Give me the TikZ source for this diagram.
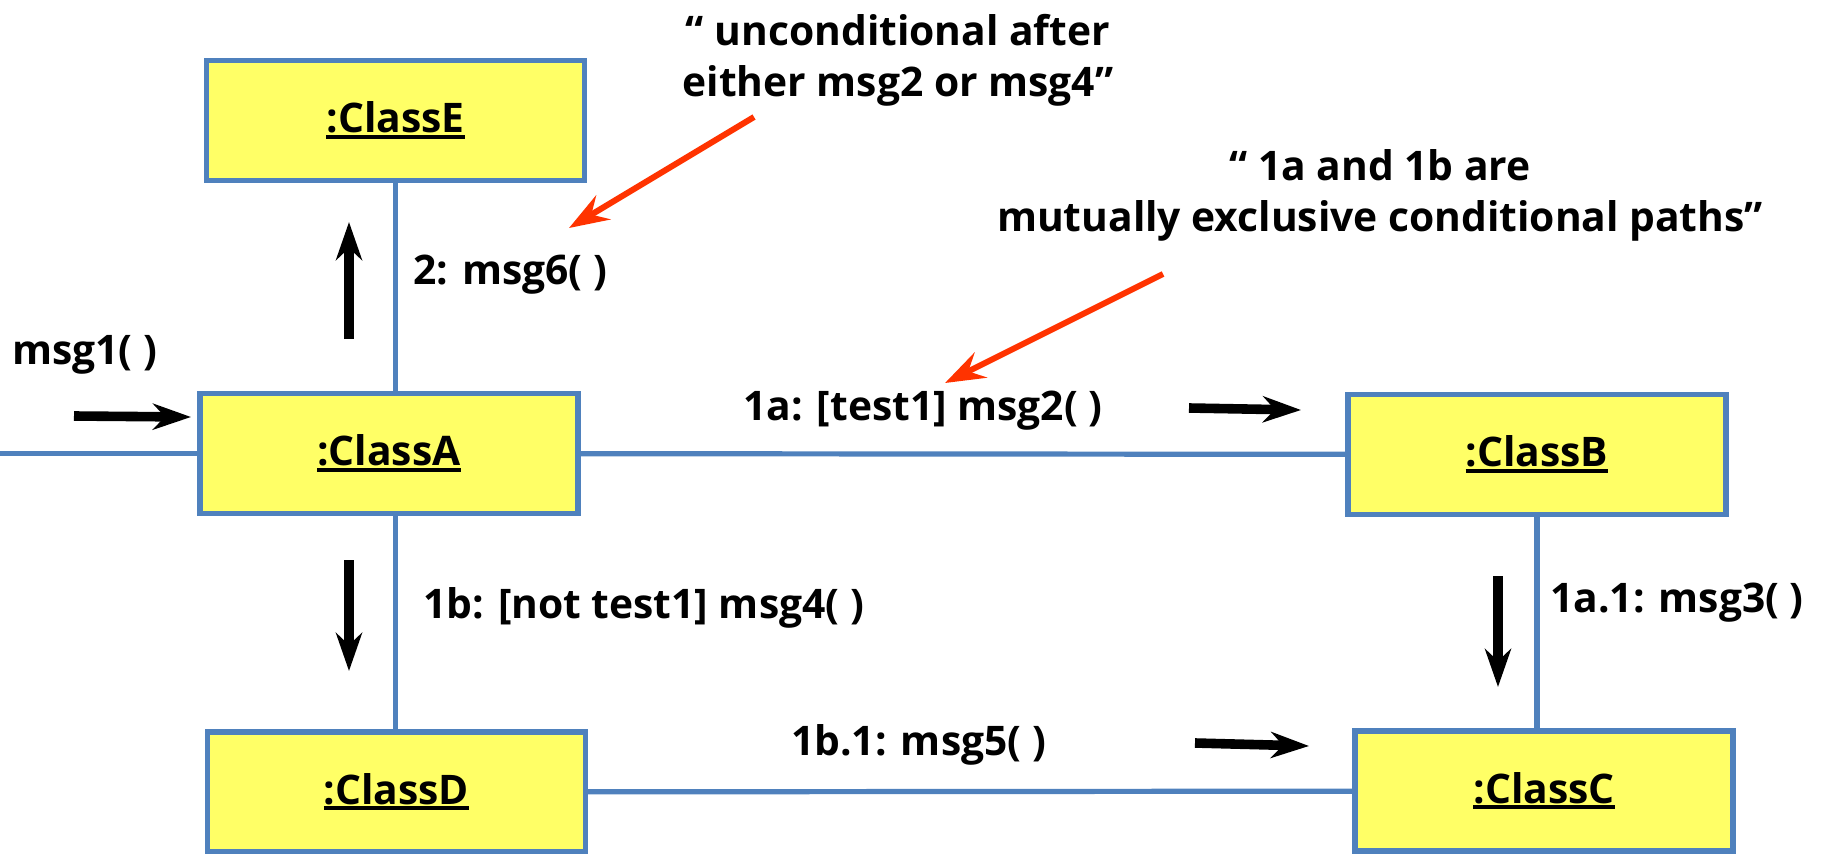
\documentclass[tikz,border=0pt]{standalone}
\usepackage{fontspec}
\setmainfont{Open Sans}
\usetikzlibrary{arrows.meta}
\definecolor{boxfill}{RGB}{255,255,102}
\definecolor{linkblue}{RGB}{79,129,189}
\definecolor{notered}{RGB}{255,51,0}
\begin{document}
\begin{tikzpicture}[
  box/.style={draw=linkblue,line width=1.3mm,fill=boxfill,minimum width=9.45cm,minimum height=3cm,inner sep=0pt,font=\bfseries},
  link/.style={draw=linkblue,line width=1.3mm},
  msg/.style={draw,line width=2.4mm,-{Stealth[length=9.5mm,width=6.5mm,inset=3mm]}},
  note/.style={draw=notered,line width=1.5mm,-{Stealth[length=10mm,width=7mm,inset=3.5mm]}},
  lbl/.style={anchor=west,inner sep=0pt,font=\bfseries}]
\fontsize{29}{36}\selectfont
\useasboundingbox (0,0) rectangle (45.825,-21.325);
\newcommand\objname[1]{\setbox0\hbox{#1}\rlap{\rule[-0.15cm]{\wd0}{0.1cm}}\box0}
\node[box] (e) at (9.8875,-3.0125) {\objname{:ClassE}};
\node[box] (a) at (9.725,-11.3375) {\objname{:ClassA}};
\node[box] (b) at (38.425,-11.3625) {\objname{:ClassB}};
\node[box] (d) at (9.9125,-19.8) {\objname{:ClassD}};
\node[box] (c) at (38.6,-19.775) {\objname{:ClassC}};
\coordinate (rand) at (0,-11.3375);
\path[link] (rand) -- (a.west);
\path[link] (a) -- (b);
\path[link] (d) -- (c);
\path[link] (e.south) -- (e.south |- a.north);
\path[link] (a.south -| e.south) -- (e.south |- d.north);
\path[link] (b.south) -- (b.south |- c.north);
% messages
\node[lbl] (l1) at (0.3,-8.875) {msg1( )};
\node[lbl] (l6) at (10.325,-6.875) {2: msg6( )};
\node[lbl] (l2) at (18.575,-10.275) {1a: [test1] msg2( )};
\node[lbl] (l4) at (10.575,-15.2) {1b: [not test1] msg4( )};
\node[lbl] (l3) at (38.75,-15.075) {1a.1: msg3( )};
\node[lbl] (l5) at (19.775,-18.625) {1b.1: msg5( )};
\coordinate (m1s) at (1.85,-10.4);   \coordinate (m1e) at (4.775,-10.425);
\coordinate (m6s) at (8.725,-8.475); \coordinate (m6e) at (8.725,-5.55);
\coordinate (m4s) at (8.725,-14.0);  \coordinate (m4e) at (8.725,-16.775);
\coordinate (m3s) at (37.45,-14.4);  \coordinate (m3e) at (37.45,-17.175);
\coordinate (m2s) at (29.725,-10.2); \coordinate (m2e) at (32.525,-10.25);
\coordinate (m5s) at (29.875,-18.575); \coordinate (m5e) at (32.725,-18.65);
\path[msg] (m1s) -- (m1e);
\path[msg] (m6s) -- (m6e);
\path[msg] (m4s) -- (m4e);
\path[msg] (m3s) -- (m3e);
\path[msg] (m2s) -- (m2e);
\path[msg] (m5s) -- (m5e);
% notes
\node[align=center,inner sep=0pt,font=\bfseries] (n1) at (22.45,-1.5) {“ unconditional after\\either msg2 or msg4”};
\node[align=center,inner sep=0pt,font=\bfseries] (n2) at (34.5,-4.8875) {“ 1a and 1b are\\mutually exclusive conditional paths”};
\coordinate (r1s) at (18.85,-2.925);  \coordinate (r1e) at (14.225,-5.7);
\coordinate (r2s) at (29.075,-6.85);  \coordinate (r2e) at (23.625,-9.575);
\path[note] (r1s) -- (r1e);
\path[note] (r2s) -- (r2e);
\end{tikzpicture}
\end{document}
